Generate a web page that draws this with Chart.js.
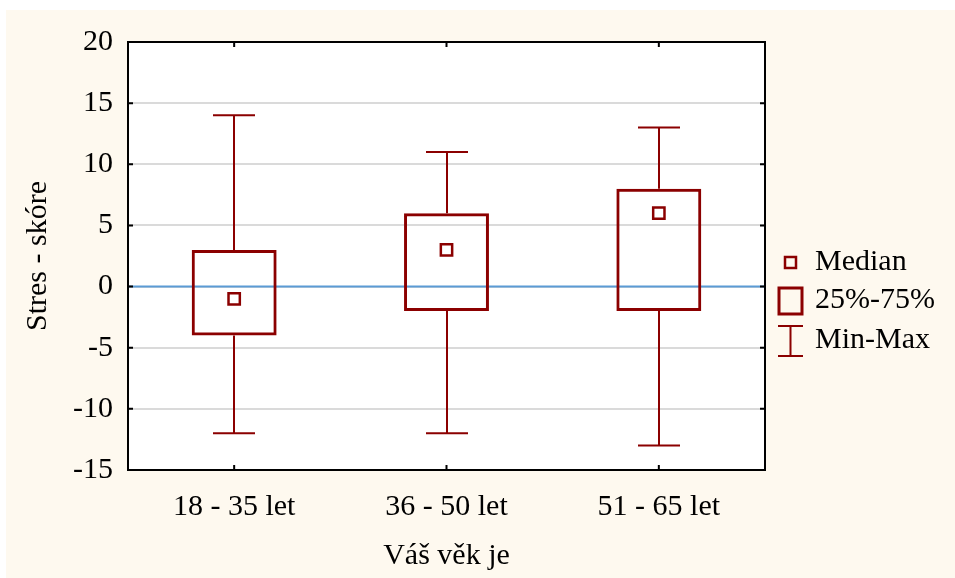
<!DOCTYPE html>
<html>
<head>
<meta charset="utf-8">
<script src="https://cdn.jsdelivr.net/npm/chart.js@4.4.4/dist/chart.umd.min.js"></script>
<style>
  html, body { margin: 0; padding: 0; background: #fff; }
  canvas { display: block; }
</style>
</head>
<body>
<canvas id="chart" width="955" height="578"></canvas>
<script>
// data
const categories = ['18 - 35 let', '36 - 50 let', '51 - 65 let'];
const minValues = [-12, -12, -13];
const q1Values = [-4, -2, -2];
const medianValues = [-1, 3, 6];
const q3Values = [3, 6, 8];
const maxValues = [14, 11, 13];
const yTicks = [-15, -10, -5, 0, 5, 10, 15, 20];
const legendLabels = ['Median', '25%-75%', 'Min-Max'];

const RED = '#8b0000';
const FONT = 'Liberation Serif';

// cream page, whiskers, zero line, frame, inside tick marks, legend
const decorations = {
    id: 'decorations',
    beforeDraw(chart) {
        const ctx = chart.ctx;
        const a = chart.chartArea;
        ctx.save();
        ctx.fillStyle = '#fef9ef';
        ctx.fillRect(6, 10, chart.width - 6, chart.height - 10);
        ctx.fillStyle = '#ffffff';
        ctx.fillRect(a.left, a.top, a.right - a.left, a.bottom - a.top);
        ctx.restore();
    },
    beforeDatasetsDraw(chart) {
        const ctx = chart.ctx;
        const a = chart.chartArea;
        const x = chart.scales.x;
        const y = chart.scales.y;
        ctx.save();
        // zero line
        ctx.strokeStyle = '#5b9bd5';
        ctx.lineWidth = 2;
        ctx.beginPath();
        ctx.moveTo(a.left, y.getPixelForValue(0));
        ctx.lineTo(a.right, y.getPixelForValue(0));
        ctx.stroke();
        // whiskers
        ctx.strokeStyle = RED;
        ctx.lineWidth = 2;
        categories.forEach((c, i) => {
            const cx = Math.round(x.getPixelForValue(i));
            const yMin = y.getPixelForValue(minValues[i]);
            const yMax = y.getPixelForValue(maxValues[i]);
            ctx.beginPath();
            ctx.moveTo(cx, yMax);
            ctx.lineTo(cx, y.getPixelForValue(q3Values[i]));
            ctx.moveTo(cx, y.getPixelForValue(q1Values[i]));
            ctx.lineTo(cx, yMin);
            ctx.moveTo(cx - 21, yMax);
            ctx.lineTo(cx + 21, yMax);
            ctx.moveTo(cx - 21, yMin);
            ctx.lineTo(cx + 21, yMin);
            ctx.stroke();
        });
        ctx.restore();
    },
    afterDraw(chart) {
        const ctx = chart.ctx;
        const a = chart.chartArea;
        const x = chart.scales.x;
        const y = chart.scales.y;
        ctx.save();
        ctx.strokeStyle = '#000';
        ctx.lineWidth = 2;
        ctx.strokeRect(a.left, a.top, a.right - a.left, a.bottom - a.top);
        ctx.beginPath();
        yTicks.forEach(v => {
            const py = y.getPixelForValue(v);
            ctx.moveTo(a.left, py);
            ctx.lineTo(a.left + 5, py);
            ctx.moveTo(a.right, py);
            ctx.lineTo(a.right - 5, py);
        });
        categories.forEach((c, i) => {
            const px = x.getPixelForValue(i);
            ctx.moveTo(px, a.top);
            ctx.lineTo(px, a.top + 5);
            ctx.moveTo(px, a.bottom);
            ctx.lineTo(px, a.bottom - 5);
        });
        ctx.stroke();

        // legend
        const lx = a.right + 25;
        ctx.strokeStyle = RED;
        ctx.lineWidth = 2.5;
        ctx.strokeRect(lx - 5, 257, 11, 11);
        ctx.lineWidth = 3;
        ctx.strokeRect(lx - 11, 288, 23, 26);
        ctx.lineWidth = 2;
        ctx.beginPath();
        ctx.moveTo(lx - 12, 326);
        ctx.lineTo(lx + 13, 326);
        ctx.moveTo(lx + 0.5, 326);
        ctx.lineTo(lx + 0.5, 356);
        ctx.moveTo(lx - 12, 356);
        ctx.lineTo(lx + 13, 356);
        ctx.stroke();
        ctx.fillStyle = '#000';
        ctx.font = '30px "' + FONT + '"';
        ctx.textBaseline = 'middle';
        ctx.textAlign = 'left';
        const ys = [262, 300, 340];
        legendLabels.forEach((t, i) => ctx.fillText(t, lx + 25, ys[i]));
        ctx.restore();
    }
};

new Chart(document.getElementById('chart'), {
    data: {
        labels: categories,
        datasets: [
            {
                type: 'line',
                label: legendLabels[0],
                data: medianValues,
                showLine: false,
                pointStyle: 'rect',
                pointRadius: 8,
                pointBorderWidth: 2.5,
                pointBorderColor: RED,
                pointBackgroundColor: '#fff',
                order: 0
            },
            {
                type: 'bar',
                label: legendLabels[1],
                data: categories.map((c, i) => [q1Values[i], q3Values[i]]),
                backgroundColor: 'rgba(255,255,255,0)',
                borderColor: RED,
                borderWidth: 3,
                borderSkipped: false,
                barPercentage: 0.4,
                categoryPercentage: 1,
                order: 1
            }
        ]
    },
    options: {
        responsive: false,
        animation: false,
        layout: { padding: { top: 42, right: 190, left: 0, bottom: 0 } },
        plugins: { legend: { display: false }, tooltip: { enabled: false } },
        scales: {
            x: {
                grid: { display: false, drawTicks: false },
                border: { display: false },
                ticks: { color: '#000', padding: 19, font: { family: FONT, size: 30 } },
                title: {
                    display: true,
                    text: 'Váš věk je',
                    color: '#000',
                    padding: { top: 0, bottom: 4 },
                    font: { family: FONT, size: 30, lineHeight: 1.2 }
                },
                afterFit(scale) { scale.height = 108; }
            },
            y: {
                min: -15,
                max: 20,
                afterBuildTicks(scale) { scale.ticks = yTicks.map(v => ({ value: v })); },
                grid: { color: '#dadada', lineWidth: 2, drawTicks: false },
                border: { display: false },
                ticks: { color: '#000', padding: 15, font: { family: FONT, size: 30 } },
                title: {
                    display: true,
                    text: 'Stres - skóre',
                    color: '#000',
                    padding: { top: 20, bottom: 0 },
                    font: { family: FONT, size: 30, lineHeight: 1.2 }
                },
                afterFit(scale) { scale.width = 128; }
            }
        }
    },
    plugins: [decorations]
});
</script>
</body>
</html>
